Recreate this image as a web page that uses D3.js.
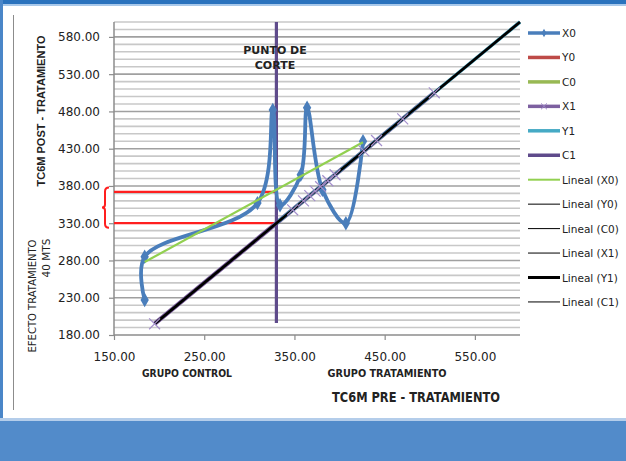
<!DOCTYPE html>
<html>
<head>
<meta charset="utf-8">
<script src="https://cdn.jsdelivr.net/npm/d3@7/dist/d3.min.js"></script>
<style>
html,body{margin:0;padding:0;background:#fff;}
svg{display:block;}
text{font-family:"DejaVu Sans",sans-serif;}
</style>
</head>
<body>
<svg id="chart" width="626" height="461"></svg>
<script>
// ---------- DATA ----------
const xTickValues = [150, 250, 350, 450, 550];
const yTickValues = [180, 230, 280, 330, 380, 430, 480, 530, 580];
const gridValues = [190,200,210,220,230,240,250,260,270,280,290,300,310,320,330,340,350,360,370,380,390,400,410,420,430,440,450,460,470,480,490,500,510,520,530,540,550,560,570,580,590,600];

// X0 series (blue, smoothed, diamond markers)
const x0X = [184, 184, 309, 326, 334, 357, 364, 381, 407, 426];
const x0Y = [227, 285, 357, 482, 354, 395, 485, 375, 330, 440];

// X1 series (purple, x markers, on the diagonal)
const x1X = [195, 348, 360, 367, 373, 379, 387, 395, 427, 441, 470, 505];
const x1Y = [195, 348, 360, 367, 373, 379, 387, 395, 427, 441, 470, 505];

// Y0 series (red horizontal lines up to the cut point)
const y0Levels = [372, 330];
const y0XRange = [150, 330];

// C1 series (vertical cut line)
const c1X = [330, 330];
const c1Y = [196, 600];

// Y1 series + its linear trend (diagonal)
const y1X = [330, 600];
const y1Y = [330, 600];
const trendY1X = [195, 600];
const trendY1Y = [195, 600];

// bracket extent (effect of treatment)
const bracketY = [378, 324];

const legendLabels = ["X0","Y0","C0","X1","Y1","C1","Lineal (X0)","Lineal (Y0)","Lineal (C0)","Lineal (X1)","Lineal (Y1)","Lineal (C1)"];

// ---------- STYLE ----------
const colors = {X0:"#4a7ebb", Y0:"#be4b48", C0:"#98b954", X1:"#7d60a0", Y1:"#46aac5", C1:"#5f4b8b", trendX0:"#92d050", red:"#ff1f1f"};

const svg = d3.select("#chart");

// frame decorations
svg.append("rect").attr("x",0).attr("y",0).attr("width",626).attr("height",4).attr("fill","#2a72bd");
svg.append("rect").attr("x",0).attr("y",4).attr("width",626).attr("height",2).attr("fill","#a8c8ea");
svg.append("rect").attr("x",0).attr("y",0).attr("width",3).attr("height",461).attr("fill","#4a86c8");
svg.append("rect").attr("x",0).attr("y",418).attr("width",626).attr("height",3).attr("fill","#b4cdea");
svg.append("rect").attr("x",0).attr("y",421).attr("width",626).attr("height",40).attr("fill","#528bca");
svg.append("line").attr("x1",13.5).attr("x2",13.5).attr("y1",15).attr("y2",410).attr("stroke","#8c8c8c").attr("stroke-width",1);

const x = d3.scaleLinear().domain([150, 600]).range([114, 520]);
const y = d3.scaleLinear().domain([180, 600]).range([335, 22]);

// gridlines
svg.append("g").selectAll("line").data(gridValues).join("line")
  .attr("x1", x(150)).attr("x2", x(600))
  .attr("y1", d => y(d)).attr("y2", d => y(d))
  .attr("stroke", d => ((d - 180) % 50 === 0) ? "#a0a0a0" : "#c8c8c8")
  .attr("stroke-width", 1.6);

// axes
const xAxis = d3.axisBottom(x).tickValues(xTickValues).tickFormat(d3.format(".2f")).tickSize(5).tickPadding(8);
const yAxis = d3.axisLeft(y).tickValues(yTickValues).tickFormat(d3.format(".2f")).tickSize(5).tickPadding(9);

const gx = svg.append("g").attr("transform", `translate(0,${y(180)})`).call(xAxis);
const gy = svg.append("g").attr("transform", `translate(${x(150)},0)`).call(yAxis);
[gx, gy].forEach(g => {
  g.select(".domain").attr("stroke", "#8c8c8c").attr("stroke-width", 1.5);
  g.selectAll(".tick line").attr("stroke", "#8c8c8c").attr("stroke-width", 1.2);
  g.selectAll(".tick text").attr("fill", "#222").style("font-size", "12px").style("font-family", '"DejaVu Sans",sans-serif');
});
gx.select(".domain").attr("d", `M${x(150)},0H${x(600)}`);
gy.select(".domain").attr("d", `M0,${y(180)}V${y(600)}`);
gx.selectAll(".tick text").attr("dy", "1.05em");

const line = d3.line().x(d => x(d[0])).y(d => y(d[1]));

// Y0 red lines
svg.append("g").selectAll("line").data(y0Levels).join("line")
  .attr("x1", x(y0XRange[0])).attr("x2", x(y0XRange[1]))
  .attr("y1", d => y(d)).attr("y2", d => y(d))
  .attr("stroke", colors.red).attr("stroke-width", 2.2);

// bracket
{
  const yt = y(bracketY[0]), yb = y(bracketY[1]), ym = (yt + yb) / 2;
  const bx = 105;
  const p = `M${bx+4},${yt} Q${bx},${yt} ${bx},${yt+4} L${bx},${ym-3} Q${bx},${ym} ${bx-3},${ym} Q${bx},${ym} ${bx},${ym+3} L${bx},${yb-4} Q${bx},${yb} ${bx+4},${yb}`;
  svg.append("path").attr("d", p).attr("fill", "none").attr("stroke", colors.red).attr("stroke-width", 2);
}

// X1 purple line along diagonal
const x1Pts = x1X.map((v, i) => [v, x1Y[i]]);
svg.append("path").attr("d", line(x1Pts)).attr("fill", "none").attr("stroke", colors.X1).attr("stroke-width", 4.5);

// Y1 teal
svg.append("path").attr("d", line(y1X.map((v, i) => [v, y1Y[i]]))).attr("fill", "none").attr("stroke", colors.Y1).attr("stroke-width", 3.6);

// C1 vertical
svg.append("path").attr("d", line(c1X.map((v, i) => [v, c1Y[i]]))).attr("fill", "none").attr("stroke", colors.C1).attr("stroke-width", 3.2);

// X0 smoothed series
const x0Pts = x0X.map((v, i) => [v, x0Y[i]]);
svg.append("path").attr("d", d3.line().x(d => x(d[0])).y(d => y(d[1])).curve(d3.curveCatmullRom.alpha(0.5))(x0Pts))
  .attr("fill", "none").attr("stroke", colors.X0).attr("stroke-width", 3.8).attr("stroke-linejoin", "round");
svg.append("g").selectAll("path").data(x0Pts).join("path")
  .attr("d", d3.symbol(d3.symbolDiamond, 60)())
  .attr("transform", d => `translate(${x(d[0])},${y(d[1])})`)
  .attr("fill", colors.X0);

// X0 linear trend
{
  const n = x0X.length;
  const mx = d3.mean(x0X), my = d3.mean(x0Y);
  let sxy = 0, sxx = 0;
  for (let i = 0; i < n; i++) { sxy += (x0X[i]-mx)*(x0Y[i]-my); sxx += (x0X[i]-mx)**2; }
  const b = sxy / sxx, a = my - b * mx;
  const x0a = d3.min(x0X), x0b = d3.max(x0X);
  svg.append("path").attr("d", line([[x0a, a + b*x0a], [x0b, a + b*x0b]]))
    .attr("fill", "none").attr("stroke", colors.trendX0).attr("stroke-width", 2.2);
}

// Y1 trend (black)
svg.append("path").attr("d", line(trendY1X.map((v, i) => [v, trendY1Y[i]]))).attr("fill", "none").attr("stroke", "#000").attr("stroke-width", 2.8);

// X1 markers
svg.append("g").selectAll("path").data(x1Pts).join("path")
  .attr("d", d3.symbol(d3.symbolTimes, 80)())
  .attr("transform", d => `translate(${x(d[0])},${y(d[1])})`)
  .attr("fill", "none").attr("stroke", "#a48fcc").attr("stroke-width", 1.2);

// annotations
const ann = svg.append("g").style("font-family", '"Liberation Sans Narrow","Liberation Sans",sans-serif').style("font-weight", "bold").attr("fill", "#222");
ann.append("text").attr("x", 275).attr("y", 54).attr("text-anchor", "middle").style("font-size", "11px").text("PUNTO DE");
ann.append("text").attr("x", 275).attr("y", 69).attr("text-anchor", "middle").style("font-size", "11px").text("CORTE");
ann.append("text").attr("x", 187).attr("y", 377).attr("text-anchor", "middle").style("font-size", "11px").attr("textLength", 90).attr("lengthAdjust", "spacingAndGlyphs").text("GRUPO CONTROL");
ann.append("text").attr("x", 387).attr("y", 377).attr("text-anchor", "middle").style("font-size", "11px").attr("textLength", 119).attr("lengthAdjust", "spacingAndGlyphs").text("GRUPO TRATAMIENTO");
ann.append("text").attr("x", 416).attr("y", 402).attr("text-anchor", "middle").style("font-size", "13.5px").attr("textLength", 168).attr("lengthAdjust", "spacingAndGlyphs").text("TC6M PRE - TRATAMIENTO");
svg.append("text").attr("transform", "translate(45,111) rotate(-90)").attr("text-anchor", "middle")
  .style("font-family", '"Liberation Sans",Arial,sans-serif').style("font-weight", "bold").style("font-size", "11px")
  .attr("fill", "#222").text("TC6M POST - TRATAMIENTO");

const ann2 = svg.append("g").style("font-family", '"Liberation Sans Narrow","Liberation Sans",sans-serif').attr("fill", "#222");
ann2.append("text").attr("transform", "translate(36,296) rotate(-90)").attr("text-anchor", "middle").style("font-size", "10.5px").attr("textLength", 113).attr("lengthAdjust", "spacingAndGlyphs").text("EFECTO TRATAMIENTO");
ann2.append("text").attr("transform", "translate(50,258) rotate(-90)").attr("text-anchor", "middle").style("font-size", "10.5px").text("40 MTS");

// legend
const legStyles = [
  {c: colors.X0, w: 3.5, m: "diamond"},
  {c: colors.Y0, w: 3.5},
  {c: colors.C0, w: 3.5},
  {c: colors.X1, w: 3.5, m: "x"},
  {c: colors.Y1, w: 3.5},
  {c: colors.C1, w: 3.5},
  {c: colors.trendX0, w: 2},
  {c: "#000", w: 1},
  {c: "#000", w: 1},
  {c: "#000", w: 1},
  {c: "#000", w: 3},
  {c: "#000", w: 1}
];
const leg = svg.append("g");
const legItems = leg.selectAll("g").data(legendLabels).join("g")
  .attr("transform", (d, i) => `translate(528,${33 + i * 24.45})`);
legItems.append("line").attr("x1", 0).attr("x2", 32).attr("y1", 0).attr("y2", 0)
  .attr("stroke", (d, i) => legStyles[i].c).attr("stroke-width", (d, i) => legStyles[i].w);
legItems.filter((d, i) => legStyles[i].m === "diamond").append("path")
  .attr("d", d3.symbol(d3.symbolDiamond, 20)()).attr("transform", "translate(16,0)").attr("fill", colors.X0);
legItems.filter((d, i) => legStyles[i].m === "x").append("path")
  .attr("d", d3.symbol(d3.symbolTimes, 25)()).attr("transform", "translate(16,0)").attr("stroke", "#9b84c4").attr("fill", "none");
legItems.append("text").attr("x", 34).attr("y", 4).style("font-size", "10.5px")
  .style("font-family", '"DejaVu Sans",sans-serif').attr("fill", "#222").text(d => d);
</script>
</body>
</html>
